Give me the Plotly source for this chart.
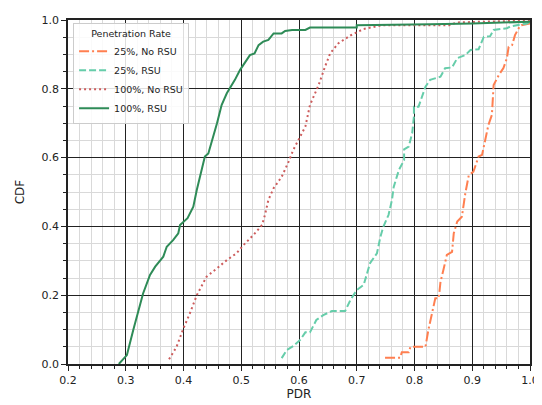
import plotly.graph_objects as go

# 25%, No RSU
pdr_25_norsu = [0.749, 0.775, 0.778, 0.790, 0.793, 0.819, 0.824, 0.830, 0.836, 0.842, 0.845, 0.850, 0.856,
                0.865, 0.868, 0.874, 0.882, 0.888, 0.894, 0.902, 0.911, 0.917, 0.923, 0.928, 0.934, 0.937,
                0.946, 0.954, 0.960, 0.963, 0.969, 0.974, 0.982, 0.985, 1.0]
cdf_25_norsu = [0.018, 0.018, 0.034, 0.034, 0.050, 0.050, 0.099, 0.147, 0.191, 0.191, 0.239, 0.273, 0.317,
                0.326, 0.380, 0.414, 0.428, 0.496, 0.549, 0.559, 0.603, 0.608, 0.651, 0.695, 0.724, 0.811,
                0.840, 0.860, 0.889, 0.922, 0.927, 0.956, 0.981, 0.985, 0.990]

# 25%, RSU
pdr_25_rsu = [0.570, 0.579, 0.590, 0.602, 0.611, 0.619, 0.630, 0.642, 0.657, 0.680, 0.689, 0.700, 0.712,
              0.723, 0.735, 0.741, 0.746, 0.755, 0.761, 0.764, 0.773, 0.782, 0.782, 0.790, 0.796, 0.799,
              0.799, 0.807, 0.819, 0.827, 0.845, 0.853, 0.865, 0.874, 0.888, 0.897, 0.911, 0.920, 0.931,
              0.937, 0.960, 0.966, 0.977, 0.995, 1.0]
cdf_25_rsu = [0.017, 0.041, 0.052, 0.070, 0.092, 0.092, 0.128, 0.142, 0.154, 0.154, 0.186, 0.215, 0.230,
              0.293, 0.322, 0.370, 0.399, 0.433, 0.477, 0.515, 0.564, 0.593, 0.624, 0.632, 0.671, 0.719,
              0.748, 0.748, 0.806, 0.826, 0.835, 0.860, 0.862, 0.889, 0.898, 0.913, 0.915, 0.951, 0.953,
              0.971, 0.976, 0.981, 0.985, 0.990, 0.995]

# 100%, No RSU
pdr_100_norsu = [0.375, 0.388, 0.400, 0.411, 0.423, 0.429, 0.440, 0.458, 0.475, 0.492, 0.504, 0.521, 0.536,
                 0.541, 0.547, 0.556, 0.570, 0.582, 0.590, 0.602, 0.611, 0.619, 0.634, 0.645, 0.654, 0.668,
                 0.689, 0.712, 0.735, 0.745, 0.860, 0.874, 0.966, 1.0]
cdf_100_norsu = [0.014, 0.050, 0.104, 0.147, 0.200, 0.220, 0.254, 0.278, 0.302, 0.322, 0.346, 0.375, 0.404,
                 0.433, 0.477, 0.511, 0.544, 0.588, 0.622, 0.661, 0.690, 0.753, 0.811, 0.864, 0.903, 0.932,
                 0.955, 0.974, 0.981, 0.985, 0.985, 0.993, 0.997, 1.0]

# 100%, RSU
pdr_100_rsu = [0.288, 0.302, 0.313, 0.330, 0.342, 0.351, 0.365, 0.371, 0.382, 0.391, 0.394, 0.407, 0.417,
               0.423, 0.437, 0.443, 0.458, 0.466, 0.475, 0.484, 0.489, 0.498, 0.507, 0.515, 0.523, 0.530,
               0.538, 0.547, 0.556, 0.570, 0.576, 0.588, 0.611, 0.619, 0.700, 0.700, 0.827, 0.900, 1.0]
cdf_100_rsu = [0.0, 0.026, 0.099, 0.205, 0.259, 0.283, 0.312, 0.341, 0.360, 0.380, 0.404, 0.424, 0.457,
               0.506, 0.603, 0.612, 0.700, 0.753, 0.787, 0.811, 0.826, 0.855, 0.879, 0.898, 0.903, 0.927,
               0.937, 0.942, 0.961, 0.961, 0.968, 0.971, 0.971, 0.978, 0.978, 0.985, 0.988, 0.990, 0.995]

x_ticks = [0.2, 0.3, 0.4, 0.5, 0.6, 0.7, 0.8, 0.9, 1.0]
y_ticks = [0.0, 0.2, 0.4, 0.6, 0.8, 1.0]

FONT = "DejaVu Sans"

fig = go.Figure()
fig.add_trace(go.Scatter(x=pdr_25_norsu, y=cdf_25_norsu, mode="lines", name="25%, No RSU",
                         line=dict(color="#ff7f50", width=2, dash="10px,3px,2px,3px")))
fig.add_trace(go.Scatter(x=pdr_25_rsu, y=cdf_25_rsu, mode="lines", name="25%, RSU",
                         line=dict(color="#66cdaa", width=2, dash="7px,3px")))
fig.add_trace(go.Scatter(x=pdr_100_norsu, y=cdf_100_norsu, mode="lines", name="100%, No RSU",
                         line=dict(color="#cd5c5c", width=2, dash="2px,3px")))
fig.add_trace(go.Scatter(x=pdr_100_rsu, y=cdf_100_rsu, mode="lines", name="100%, RSU",
                         line=dict(color="#2e8b57", width=2)))

axis_common = dict(
    showline=True, linecolor="#222", linewidth=1.5, mirror=True,
    ticks="outside", ticklen=5, tickcolor="#222", tickwidth=1,
    showgrid=True, gridcolor="#222", gridwidth=1,
    zeroline=False, automargin=False,
    tickfont=dict(family=FONT, size=11, color="#222"),
)

fig.update_xaxes(**axis_common, range=[0.2, 1.0], tickvals=x_ticks,
                 ticktext=[f"{v:.1f}" for v in x_ticks],
                 title=dict(text="PDR", font=dict(family=FONT, size=12, color="#222"), standoff=3),
                 minor=dict(dtick=0.02, tick0=0.2, showgrid=True, gridcolor="#d9d9d9", gridwidth=1,
                            ticks="outside", ticklen=3, tickcolor="#222"))
fig.update_yaxes(**axis_common, range=[0.0, 1.0], tickvals=y_ticks,
                 ticktext=[f"{v:.1f}" for v in y_ticks],
                 title=dict(text="CDF", font=dict(family=FONT, size=12, color="#222"), standoff=14),
                 minor=dict(dtick=0.05, tick0=0.0, showgrid=True, gridcolor="#d9d9d9", gridwidth=1,
                            ticks="outside", ticklen=3, tickcolor="#222"))

# the page body adds an 8px offset, so the figure is 8px smaller and margins compensate
fig.update_layout(
    width=534, height=397,
    margin=dict(l=60, r=12, t=12, b=41),
    plot_bgcolor="white", paper_bgcolor="white",
    font=dict(family=FONT, size=10, color="#222"),
    legend=dict(
        x=0.011, y=0.99, xanchor="left", yanchor="top",
        bgcolor="rgba(255,255,255,0.85)", bordercolor="#cccccc", borderwidth=1,
        title=dict(text="Penetration Rate", side="top center", font=dict(family=FONT, size=9.5)),
        font=dict(family=FONT, size=9.5),
        tracegroupgap=0, itemwidth=30,
    ),
    showlegend=True,
)

fig.write_html("out.html")
